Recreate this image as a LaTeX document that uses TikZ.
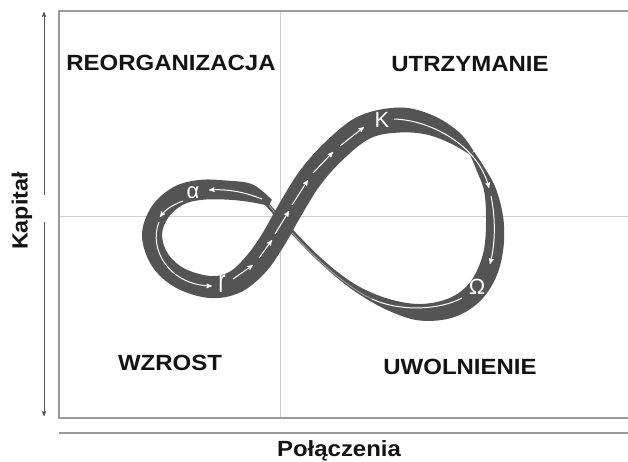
\documentclass[tikz,border=0pt]{standalone}
\usepackage{fontspec}
\setmainfont{Liberation Sans}
\usetikzlibrary{positioning}
\usetikzlibrary{arrows,calc}

\definecolor{ribbon}{RGB}{84,84,84}
\definecolor{frameline}{RGB}{155,155,155}
\definecolor{gridline}{RGB}{205,205,205}
\newcommand{\widetext}[1]{\scalebox{1.09}[1]{#1}}

\begin{document}
\begin{tikzpicture}[
x=1pt, y=-1pt,
>=stealth',
phase/.style={font=\fontsize{22}{24}\selectfont\bfseries, text=black!92, inner sep=0pt},
axislabel/.style={font=\fontsize{22}{24}\selectfont\bfseries, text=black!92, inner sep=0pt},
greek/.style={font=\fontsize{22}{24}\selectfont, text=white, inner sep=0pt},
band/.style={fill=ribbon},
flow/.style={white, line width=1pt},
faint/.style={black!35, line width=0.8pt}]
\useasboundingbox (0,0) rectangle (628,461);

% frame, quadrants and axes
\draw[gridline, line width=1pt] (280,11) -- (280,418);
\draw[gridline, line width=1pt] (59,216) -- (628,216);
\draw[frameline, line width=1.6pt] (628,11) -- (59,11) -- (59,418) -- (628,418);
\draw[frameline, line width=1.6pt] (59,433) -- (628,433);

\coordinate (ytop) at (44,12);
\coordinate (ygapa) at (44,195);
\coordinate (ygapb) at (44,222);
\coordinate (ybot) at (44,416);
\draw[->, black!65, line width=0.8pt] (ygapa) -- (ytop);
\draw[->, black!65, line width=0.8pt] (ygapb) -- (ybot);

\node[axislabel, rotate=90] (kapital) at (22,211) {\scalebox{1.06}[1]{Kapitał}};
\node[axislabel] (polaczenia) at (339,451) {\widetext{Połączenia}};

\node[phase] (reorg) at (171,63) {\widetext{REORGANIZACJA}};
\node[phase] (utrz) at (470,64) {\widetext{UTRZYMANIE}};
\node[phase] (wzrost) at (170,363) {\widetext{WZROST}};
\node[phase] (uwoln) at (460,367) {\widetext{UWOLNIENIE}};

% right loop with the thin strip running back under the crossing
\fill[band] plot[smooth, tension=0.6] coordinates {
 (474.2,151.8) (483.6,166.2) (495.8,188.4) (503.5,219.6) (503,251.3)
 (495.1,279.2) (478.7,302.4) (452.9,317.5) (419.6,320.5) (388.2,310.5)
 (360.3,295) (338.5,279) (316.6,259.5) (298.6,241.4) (281.6,223.4) (264.6,204.4)}
 -- plot[smooth, tension=0.6] coordinates {
 (267.4,201.6) (284.4,220.6) (301.4,238.6) (319.4,256.5) (341.5,275)
 (363.7,289) (391.8,299.8) (420.4,304) (447.1,299) (465.3,287.6)
 (476.9,270.8) (484.1,248.7) (486,220.4) (484.2,191.6) (476.4,169.8) (469.8,154.2)}
 -- cycle;
\draw[faint] (372,299) .. controls (340,284) and (300,245) .. (268,204);

% left loop, rising band and the top past K
\fill[band] plot[smooth, tension=0.6] coordinates {
 (271.8,199.8) (252.5,184.4) (225.5,180.5) (198.7,180) (173.2,187.2)
 (151.7,206.5) (142,235) (151.6,265.5) (175,287.2) (209.2,298)
 (240,292.5) (264.9,272.9) (283.9,246.1) (300.8,216.4) (320,185.5)
 (343.5,159.1) (370.9,138) (400,132.5) (426.7,134.6) (450.4,143.3) (470.5,155)}
 -- plot[smooth, tension=0.6] coordinates {
 (473.5,151) (459.6,132.7) (433.3,115.6) (400,107.5) (359.1,116)
 (326.5,140.9) (300,170.5) (279.3,203.6) (262.1,233.9) (247.1,255.1)
 (230,271.5) (210.8,276) (185,268.8) (168.4,254.5) (162,235)
 (168.3,217.5) (182.8,204.8) (201.3,199.9) (224.5,199.5) (247.5,201.6) (268.5,205.7)}
 -- cycle;

% flow lines on the ribbon
\draw[flow, ->] (262,199) .. controls (242,191) and (225,189) .. (209,190);
\draw[flow, ->] (183,201) .. controls (172,205) and (165,210) .. (160,217);
\draw[flow, ->] (159,222) .. controls (148,250) and (170,285) .. (212,286);
\draw[flow, ->] (233,279) -- (253,265);
\draw[flow, ->] (259,258) -- (272,240);
\draw[flow, ->] (275,234) -- (289,211);
\draw[flow, ->] (292,205) -- (308,180);
\draw[flow, ->] (313,173) -- (333,152);
\draw[flow, ->] (340,146) -- (364,127);
\draw[flow, ->] (394,119) .. controls (430,120) and (478,145) .. (489,188);
\draw[flow, ->] (491,196) .. controls (496,220) and (495,245) .. (490,264);
\draw[flow] (462,298) .. controls (440,310) and (400,312) .. (372,299);

\node[greek] (alpha) at (193,193) {α};
\node[greek] (growth) at (222,284) {\scalebox{1}[1.5]{r}};
\node[greek] (kappa) at (382,120) {K};
\node[greek] (omega) at (477,287) {Ω};
\end{tikzpicture}
\end{document}
